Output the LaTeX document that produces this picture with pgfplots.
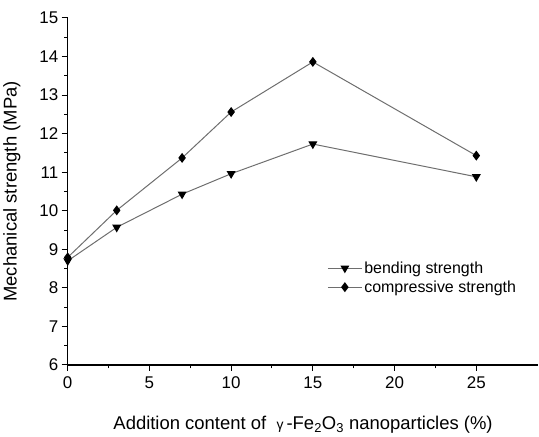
\documentclass[border=0pt]{standalone}
\usepackage{pgfplots}
\pgfplotsset{compat=1.18}
\usepackage{fontspec}
\setmainfont{Liberation Sans}
\definecolor{lgray}{RGB}{110,110,110}
\begin{document}
\begin{tikzpicture}
\begin{axis}[
  scale only axis,
  width=472pt, height=348pt,
  xmin=0, xmax=28.8, ymin=6, ymax=15,
  axis lines*=left,
  axis line style={line width=1.2pt, black},
  tick align=outside,
  major tick length=6pt, minor tick length=3.5pt,
  tick style={line width=1pt, black},
  xtick={0,5,10,15,20,25}, ytick={6,7,...,15},
  minor x tick num=1, minor y tick num=1,
  /pgf/number format/assume math mode=true,
  ticklabel style={font=\fontsize{17}{20}\selectfont},
  xticklabel style={yshift=-2pt},
  label style={font=\fontsize{18.5}{22}\selectfont},
  xlabel={Addition content of \ {\fontsize{14}{16}\selectfont γ}\,-Fe\textsubscript{2}O\textsubscript{3} nanoparticles (\%)},
  ylabel={Mechanical strength (MPa)},
  xlabel style={yshift=-21pt},
  ylabel style={yshift=12pt},
  legend style={draw=none, fill=none, at={(0.545,0.31)}, anchor=north west,
    font=\fontsize{16}{19}\selectfont, row sep=2pt},
  legend cell align=left,
  legend image code/.code={\draw[mark repeat=2,mark phase=2] plot coordinates {(0pt,0pt)(17pt,0pt)(34pt,0pt)};},
]
\addplot[lgray, line width=1pt, mark=triangle*, mark options={black, fill=black, rotate=180, scale=2.1}]
  coordinates {(0,8.70) (3,9.57) (7,10.43) (10,10.96) (15,11.73) (25,10.88)};
\addlegendentry{bending strength}
\addplot[lgray, line width=1pt, mark=diamond*, mark options={black, fill=black, scale=2.1}]
  coordinates {(0,8.79) (3,10.01) (7,11.37) (10,12.56) (15,13.86) (25,11.43)};
\addlegendentry{compressive strength}
\end{axis}
\path (current axis.north west) ++(0,18pt) coordinate (tt);
\path (current axis.south west) ++(0,-68pt) coordinate (bb);
\end{tikzpicture}
\end{document}
